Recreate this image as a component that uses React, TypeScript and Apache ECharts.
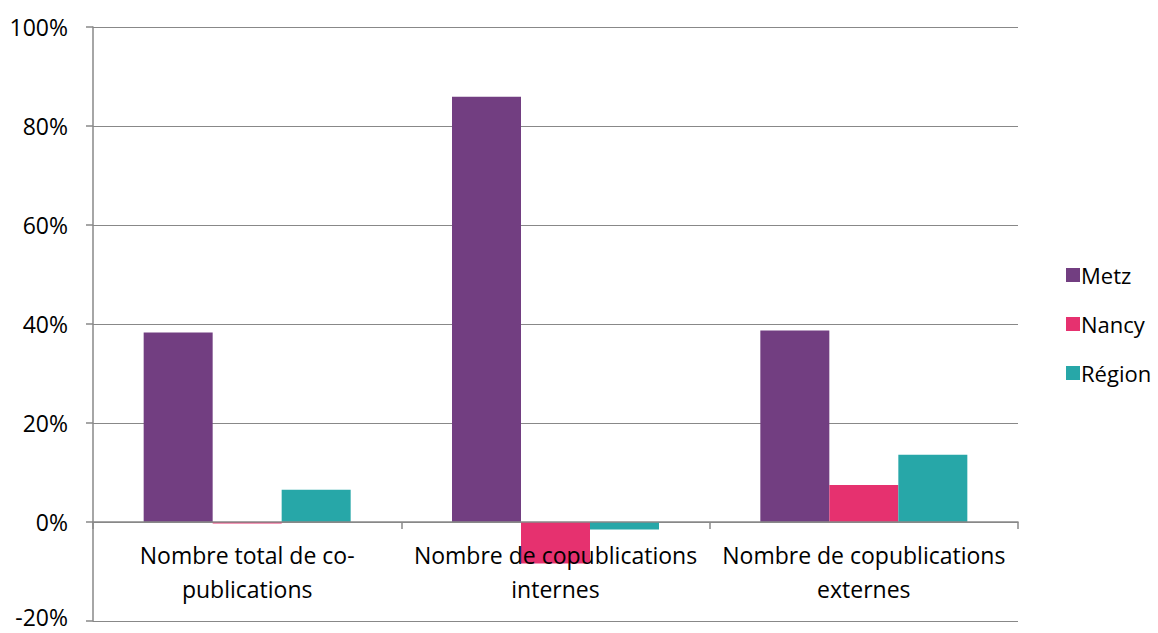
import React, { useEffect, useRef } from "react";
import * as echarts from "echarts";

const categories = [
  "Nombre total de co-\npublications",
  "Nombre de copublications\ninternes",
  "Nombre de copublications\nexternes",
];
const metz = [38.3, 85.9, 38.7];
const nancy = [-0.3, -8.4, 7.5];
const region = [6.5, -1.5, 13.6];
const seriesNames = ["Metz", "Nancy", "Région"];
const colors = ["#723E81", "#E6316F", "#27A7A8"];
const yMin = -20;
const yMax = 100;
const yStep = 20;

const FONT = "'Open Sans', Lato, sans-serif";

export default function App() {
  const ref = useRef<HTMLDivElement>(null);
  useEffect(() => {
    if (!ref.current) return;
    const chart = echarts.init(ref.current, null, { renderer: "svg" });
    chart.setOption({
      animation: false,
      backgroundColor: "#ffffff",
      grid: {
        left: 93,
        top: 27,
        right: 140,
        bottom: 12,
        containLabel: false,
        outerBoundsMode: "none",
      },
      legend: {
        orient: "vertical",
        left: 1061,
        top: 259,
        itemWidth: 14,
        itemHeight: 14,
        itemGap: 27,
        icon: "rect",
        textStyle: { fontFamily: FONT, fontSize: 22, color: "#000", padding: [0, 0, 0, -4] },
        data: seriesNames,
      },
      xAxis: {
        type: "category",
        data: categories,
        z: 5,
        offset: -99,
        axisLine: { onZero: false, lineStyle: { color: "#888888", width: 1.5 } },
        axisTick: { show: true, length: 7, inside: false, lineStyle: { color: "#888888", width: 1.5 } },
        axisLabel: {
          fontFamily: FONT,
          fontSize: 23,
          color: "#000",
          lineHeight: 34,
          margin: 16,
          interval: 0,
        },
      },
      yAxis: {
        type: "value",
        min: yMin,
        max: yMax,
        interval: yStep,
        axisLine: { show: true, lineStyle: { color: "#888888", width: 1.5 } },
        axisTick: { show: true, length: 7, lineStyle: { color: "#888888", width: 1.5 } },
        axisLabel: {
          formatter: (v: number) => (v === yMin ? `{low|${v}%}` : `${v}%`),
          fontFamily: FONT,
          fontSize: 23,
          color: "#000",
          margin: 25,
          lineHeight: 22,
          rich: {
            low: {
              fontFamily: FONT,
              fontSize: 23,
              color: "#000",
              lineHeight: 22,
              padding: [0, 0, 8, 0],
            },
          },
        },
        splitLine: { show: true, lineStyle: { color: "#888888", width: 1.2 } },
      },
      series: [metz, nancy, region].map((d, i) => ({
        name: seriesNames[i],
        type: "bar",
        data: d,
        barWidth: 69,
        barGap: "0%",
        itemStyle: { color: colors[i] },
      })),
    });
    return () => chart.dispose();
  }, []);
  return (
    <div
      ref={ref}
      style={{ position: "fixed", left: 0, top: 0, width: 1158, height: 633 }}
    />
  );
}
